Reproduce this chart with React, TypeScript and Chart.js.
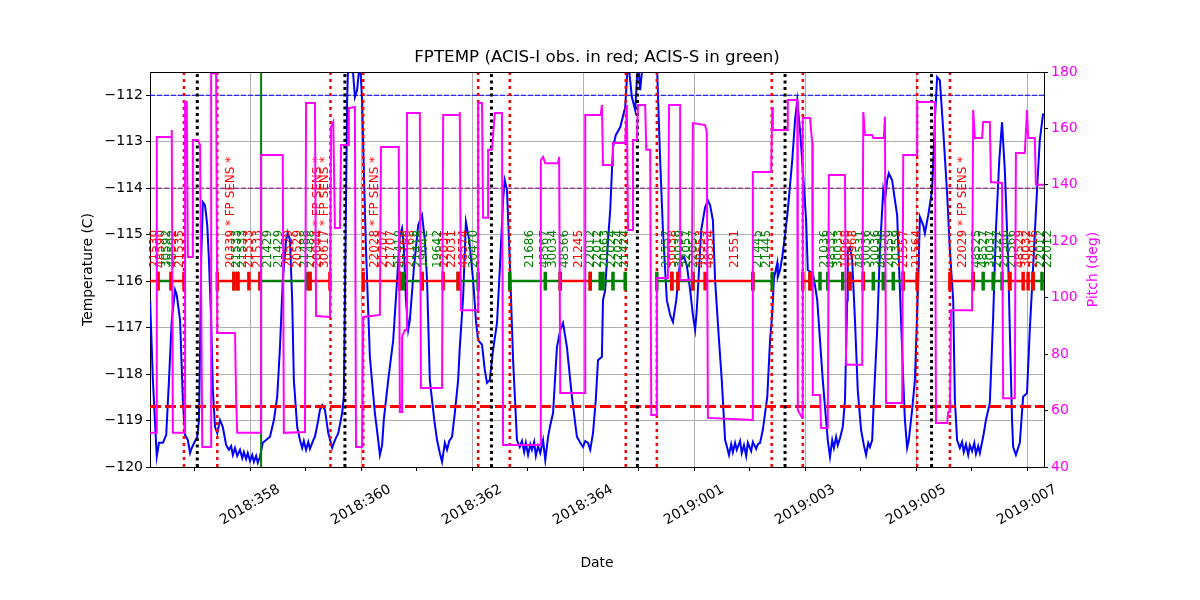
import React, { useEffect, useRef } from "react";
import { Chart, registerables } from "chart.js";
Chart.register(...registerables);

// ---------- axis ranges & ticks ----------
const X_MIN = 356.198;
const X_MAX = 372.306;
const T_MIN = -120;
const T_MAX = -111.5;
const P_MIN = 40;
const P_MAX = 180;
const xTickDays = [357, 358, 359, 360, 361, 362, 363, 364, 365, 366, 367, 368, 369, 370, 371, 372];
const xLabelDays = [358, 360, 362, 364, 366, 368, 370, 372];
const tempTicks = [-120, -119, -118, -117, -116, -115, -114, -113, -112];
const pitchTicks = [40, 60, 80, 100, 120, 140, 160, 180];

// ---------- FPTEMP (deg C) ----------
const tempTimes = [
  356.20, 356.25, 356.32, 356.36, 356.43, 356.49, 356.54, 356.59, 356.65, 356.68, 356.74, 356.79, 356.83, 356.88, 356.92, 356.95,
  357.01, 357.05, 357.08, 357.10, 357.12, 357.15, 357.19, 357.23, 357.26, 357.30, 357.33, 357.37, 357.41, 357.46, 357.51, 357.57,
  357.62, 357.66, 357.69, 357.73, 357.77, 357.82, 357.86, 357.89, 357.93, 357.96, 358.00, 358.04, 358.07, 358.11, 358.14, 358.18,
  358.23, 358.29, 358.36, 358.43, 358.49, 358.54, 358.59, 358.65, 358.68, 358.72, 358.76, 358.79, 358.85, 358.90, 358.94, 358.97,
  359.01, 359.05, 359.08, 359.14, 359.17, 359.23, 359.26, 359.30, 359.35, 359.41, 359.48, 359.53, 359.59, 359.66, 359.69, 359.71,
  359.75, 359.77, 359.84, 359.89, 359.93, 359.98, 360.02, 360.04, 360.09, 360.16, 360.22, 360.25, 360.31, 360.34, 360.38, 360.41,
  360.49, 360.58, 360.65, 360.70, 360.74, 360.77, 360.81, 360.85, 360.88, 360.95, 361.03, 361.10, 361.15, 361.19, 361.24, 361.32,
  361.37, 361.42, 361.46, 361.51, 361.55, 361.59, 361.64, 361.69, 361.75, 361.78, 361.84, 361.89, 361.95, 362.02, 362.07, 362.11,
  362.18, 362.23, 362.27, 362.32, 362.38, 362.45, 362.50, 362.56, 362.59, 362.63, 362.68, 362.74, 362.81, 362.86, 362.90, 362.94,
  362.97, 363.01, 363.05, 363.08, 363.12, 363.15, 363.19, 363.23, 363.28, 363.32, 363.37, 363.41, 363.46, 363.53, 363.59, 363.64,
  363.71, 363.80, 363.89, 363.95, 364.00, 364.04, 364.09, 364.13, 364.18, 364.23, 364.27, 364.34, 364.36, 364.40, 364.45, 364.49,
  364.54, 364.59, 364.67, 364.76, 364.81, 364.85, 364.88, 364.94, 364.99, 365.03, 365.08, 365.21, 365.33, 365.39, 365.44, 365.51,
  365.57, 365.62, 365.68, 365.75, 365.82, 365.87, 365.93, 365.98, 366.02, 366.05, 366.09, 366.13, 366.20, 366.25, 366.29, 366.34,
  366.38, 366.45, 366.50, 366.56, 366.59, 366.63, 366.67, 366.70, 366.74, 366.77, 366.83, 366.86, 366.90, 366.94, 366.97, 367.03,
  367.06, 367.12, 367.15, 367.19, 367.24, 367.32, 367.37, 367.41, 367.44, 367.50, 367.51, 367.55, 367.59, 367.64, 367.69, 367.77,
  367.82, 367.86, 367.91, 367.96, 368.02, 368.05, 368.11, 368.14, 368.18, 368.22, 368.27, 368.32, 368.38, 368.41, 368.45, 368.49,
  368.52, 368.56, 368.59, 368.63, 368.68, 368.72, 368.76, 368.77, 368.81, 368.85, 368.90, 368.95, 369.01, 369.06, 369.10, 369.14,
  369.17, 369.21, 369.24, 369.30, 369.35, 369.41, 369.44, 369.48, 369.51, 369.57, 369.62, 369.66, 369.71, 369.77, 369.80, 369.84,
  369.87, 369.93, 369.98, 370.04, 370.07, 370.13, 370.16, 370.22, 370.29, 370.34, 370.38, 370.43, 370.49, 370.56, 370.61, 370.67,
  370.70, 370.74, 370.79, 370.83, 370.86, 370.90, 370.94, 370.97, 371.01, 371.05, 371.08, 371.12, 371.15, 371.21, 371.26, 371.33,
  371.39, 371.44, 371.50, 371.55, 371.60, 371.66, 371.69, 371.73, 371.75, 371.80, 371.84, 371.87, 371.93, 372.00, 372.05, 372.11,
  372.18, 372.23, 372.29,
];
const tempValues = [
  -116.41, -118.13, -119.78, -119.48, -119.48, -119.31, -118.13, -116.84, -116.19, -116.30, -116.84, -118.56, -119.31, -119.42, -119.70, -119.59,
  -119.44, -119.35, -118.99, -117.48, -115.55, -114.30, -114.37, -114.80, -115.55, -116.84, -118.34, -119.14, -119.27, -118.99, -119.14, -119.53,
  -119.63, -119.55, -119.74, -119.59, -119.76, -119.63, -119.81, -119.68, -119.83, -119.70, -119.87, -119.74, -119.89, -119.76, -119.91, -119.78,
  -119.48, -119.42, -119.35, -118.99, -118.49, -117.42, -115.98, -115.12, -114.95, -115.12, -116.41, -118.13, -119.14, -119.42, -119.59, -119.44,
  -119.63, -119.46, -119.61, -119.42, -119.35, -118.99, -118.77, -118.67, -118.77, -119.27, -119.59, -119.42, -119.27, -118.84, -118.49, -116.41,
  -112.11, -111.25, -111.25, -112.04, -111.89, -111.25, -112.11, -113.12, -115.33, -117.63, -118.45, -118.84, -119.42, -119.74, -119.53, -118.99,
  -118.13, -117.27, -115.98, -115.01, -114.86, -115.23, -116.41, -117.05, -116.84, -115.76, -114.80, -114.58, -115.12, -115.98, -118.13, -118.99,
  -119.42, -119.70, -119.89, -119.48, -119.63, -119.44, -119.35, -118.84, -118.13, -117.42, -116.34, -114.73, -115.12, -115.98, -116.84, -117.27,
  -117.37, -117.91, -118.19, -118.13, -117.48, -116.90, -115.76, -114.26, -113.83, -114.04, -115.55, -117.70, -119.42, -119.57, -119.44, -119.68,
  -119.48, -119.74, -119.51, -119.63, -119.46, -119.76, -119.55, -119.70, -119.42, -119.85, -119.35, -119.10, -118.84, -117.42, -117.05, -116.90,
  -117.42, -118.49, -119.35, -119.48, -119.57, -119.44, -119.48, -119.63, -119.27, -118.56, -117.70, -117.63, -116.41, -116.19, -115.12, -114.47,
  -113.12, -112.86, -112.69, -112.26, -111.25, -111.68, -112.04, -112.32, -111.25, -111.89, -111.25, -110.82, -111.25, -113.40, -114.90, -116.41,
  -116.73, -116.88, -116.41, -115.55, -115.48, -115.66, -116.19, -116.73, -117.05, -116.62, -115.76, -114.90, -114.41, -114.26, -114.37, -114.69,
  -115.98, -117.27, -118.13, -119.42, -119.55, -119.74, -119.51, -119.68, -119.48, -119.63, -119.44, -119.70, -119.53, -119.76, -119.48, -119.66,
  -119.46, -119.61, -119.51, -119.48, -119.20, -118.49, -117.27, -116.69, -115.94, -115.61, -115.91, -115.76, -115.48, -115.01, -114.47, -113.40,
  -112.54, -112.11, -112.75, -113.61, -114.69, -115.76, -115.81, -115.83, -116.09, -116.41, -117.27, -118.13, -118.99, -119.42, -119.78, -119.42,
  -119.59, -119.35, -119.53, -119.38, -119.14, -118.56, -116.41, -115.33, -115.27, -115.55, -116.84, -118.34, -119.20, -119.53, -119.74, -119.48,
  -119.57, -119.42, -118.56, -117.05, -115.33, -114.04, -114.26, -113.83, -113.68, -113.83, -114.26, -114.58, -116.19, -118.13, -118.99, -119.59,
  -119.42, -118.77, -118.13, -115.98, -114.62, -114.80, -114.97, -114.58, -114.04, -112.54, -111.61, -111.68, -112.75, -114.11, -115.33, -116.41,
  -118.56, -119.42, -119.59, -119.46, -119.68, -119.51, -119.74, -119.53, -119.66, -119.48, -119.72, -119.55, -119.70, -119.35, -118.99, -118.62,
  -116.77, -114.90, -113.40, -112.58, -113.61, -115.55, -117.05, -118.99, -119.57, -119.74, -119.59, -119.48, -118.49, -118.41, -117.05, -115.70,
  -114.04, -112.97, -112.39,
];

// ---------- Pitch (deg) ----------
const pitchTimes = [
  356.20, 356.32, 356.32, 356.58, 356.59, 356.61, 356.83, 356.83, 356.86, 356.88, 356.97, 356.97, 357.06, 357.10, 357.14, 357.30,
  357.30, 357.39, 357.41, 357.73, 357.75, 357.77, 358.20, 358.20, 358.59, 358.61, 358.99, 359.01, 359.17, 359.19, 359.44, 359.46,
  359.50, 359.53, 359.62, 359.64, 359.77, 359.78, 359.89, 359.91, 360.02, 360.04, 360.34, 360.36, 360.68, 360.70, 360.74, 360.74,
  360.79, 360.83, 360.83, 361.06, 361.08, 361.46, 361.48, 361.78, 361.78, 361.80, 362.11, 362.11, 362.18, 362.20, 362.29, 362.29,
  362.36, 362.41, 362.54, 362.56, 363.23, 363.24, 363.28, 363.32, 363.55, 363.57, 363.59, 364.04, 364.04, 364.32, 364.34, 364.36,
  364.54, 364.54, 364.76, 364.79, 364.81, 364.90, 364.90, 364.97, 364.99, 365.12, 365.14, 365.21, 365.23, 365.33, 365.33, 365.53,
  365.55, 365.75, 365.75, 365.96, 365.98, 366.20, 366.23, 366.25, 367.06, 367.06, 367.39, 367.41, 367.42, 367.68, 367.69, 367.86,
  367.87, 367.95, 367.96, 368.09, 368.13, 368.14, 368.27, 368.29, 368.41, 368.43, 368.72, 368.74, 369.03, 369.05, 369.08, 369.21,
  369.23, 369.42, 369.44, 369.46, 369.75, 369.77, 370.02, 370.02, 370.34, 370.36, 370.56, 370.58, 370.61, 370.63, 371.01, 371.03,
  371.06, 371.19, 371.21, 371.33, 371.35, 371.55, 371.57, 371.78, 371.80, 371.96, 372.00, 372.02, 372.14, 372.16, 372.31,
];
const pitchValues = [
  52.1, 52.1, 157.0, 157.0, 159.4, 52.1, 52.1, 169.4, 169.4, 114.4, 114.4, 155.9, 155.9, 154.1, 47.1, 47.1,
  179.6, 179.6, 87.5, 87.5, 63.7, 52.1, 52.1, 150.6, 150.6, 52.1, 52.4, 169.0, 169.0, 93.5, 93.2, 160.5,
  162.3, 124.7, 124.7, 154.1, 154.1, 167.2, 167.6, 47.1, 47.1, 93.2, 93.9, 153.4, 153.4, 59.5, 59.5, 86.1,
  88.6, 88.6, 165.5, 165.5, 68.0, 68.0, 164.8, 164.8, 165.8, 95.6, 95.6, 169.0, 169.0, 128.3, 128.3, 152.4,
  152.4, 165.5, 165.5, 47.8, 47.8, 148.8, 149.9, 147.7, 147.7, 149.9, 66.2, 66.2, 164.8, 164.8, 168.3, 147.0,
  147.0, 154.8, 154.8, 168.3, 124.0, 124.0, 155.9, 155.9, 168.3, 168.3, 152.4, 152.4, 58.4, 58.4, 107.0, 107.0,
  168.3, 168.3, 106.3, 106.3, 161.9, 161.2, 158.7, 57.4, 56.7, 144.6, 144.6, 167.6, 159.4, 159.4, 170.1, 170.1,
  60.2, 57.4, 163.7, 163.7, 154.8, 65.5, 65.5, 53.8, 53.8, 143.5, 143.5, 76.2, 76.2, 165.8, 157.7, 157.7,
  156.6, 156.6, 164.1, 62.7, 62.7, 150.6, 150.6, 169.4, 169.4, 55.6, 55.6, 59.5, 59.5, 95.6, 95.6, 166.5,
  156.6, 156.6, 162.3, 162.3, 141.0, 140.7, 64.4, 64.4, 151.3, 151.3, 166.5, 156.6, 156.6, 140.0, 140.0,
];

// ---------- limits & event lines ----------
const planningLimit = -112.0;
const yellowLimit = -114.0;
const acisLimit = -118.7;
const radZoneDays = [356.81, 357.41, 359.45, 360.04, 362.11, 362.68, 364.77, 365.33, 367.40, 367.96, 370.02, 370.61];
const perigeeDays = [357.05, 359.71, 362.35, 364.98, 367.64, 370.28];
const nowDays = [358.20];

// ---------- observations band ----------
const BAND_T = -116.0;
const obsStarts = [
  356.10, 356.34, 356.58, 357.41, 357.71, 357.78, 357.98, 358.18, 359.03, 359.08, 360.04, 360.70, 360.76, 361.10, 361.48, 361.75,
  362.68, 363.32, 363.59, 364.13, 364.31, 364.36, 364.54, 365.33, 365.60, 365.71, 365.98, 366.20, 367.06, 367.96, 368.09, 368.27,
  368.41, 368.68, 368.81, 369.05, 369.23, 369.41, 369.59, 369.77, 370.61, 371.03, 371.21, 371.39, 371.55, 371.69, 371.93, 372.02,
  372.11, 372.27,
];
const obsStops = [
  356.34, 356.58, 356.81, 357.71, 357.78, 357.98, 358.18, 359.03, 359.08, 359.44, 360.70, 360.76, 361.10, 361.48, 361.75, 362.11,
  363.32, 363.59, 364.13, 364.31, 364.36, 364.54, 364.76, 365.60, 365.71, 365.98, 366.20, 367.06, 367.41, 368.09, 368.27, 368.41,
  368.68, 368.81, 369.05, 369.23, 369.41, 369.59, 369.77, 370.02, 371.03, 371.21, 371.39, 371.55, 371.69, 371.93, 372.02, 372.11,
  372.27, 372.45,
];
const obsInst = [
  "I", "S", "I", "I", "S", "I", "I", "S", "S", "I", "I", "S", "S", "I", "I", "S",
  "S", "S", "I", "S", "S", "S", "S", "S", "I", "S", "I", "I", "S", "I", "S", "S",
  "S", "S", "I", "S", "S", "S", "S", "I", "I", "S", "S", "S", "S", "I", "I", "I",
  "S", "S",
];

// ---------- obsid labels ----------
const labelTimes = [
  356.29, 356.40, 356.50, 356.61, 356.74, 357.66, 357.77, 357.87, 357.98, 358.14, 358.32, 358.52, 358.70, 358.86, 358.99, 359.10,
  359.23, 359.35, 360.25, 360.41, 360.54, 360.70, 360.79, 360.90, 361.03, 361.14, 361.39, 361.51, 361.64, 361.86, 362.04, 363.05,
  363.32, 363.46, 363.68, 363.93, 364.14, 364.27, 364.40, 364.52, 364.65, 364.76, 365.51, 365.62, 365.75, 365.87, 366.00, 366.13,
  366.29, 366.74, 367.15, 367.32, 368.36, 368.49, 368.61, 368.74, 368.86, 369.01, 369.12, 369.28, 369.41, 369.53, 369.66, 369.78,
  370.02, 370.85, 371.10, 371.23, 371.35, 371.48, 371.60, 371.73, 371.87, 372.00, 372.13, 372.25, 372.38,
];
const labelTexts = [
  "21530", "48590", "30592", "48592", "21535", "20339 * FP SENS *", "21533", "21533", "21533", "21533", "21429", "21429", "20529", "20529", "21488", "21488",
  "20044 * FP SENS *", "30617 * FP SENS *", "22028 * FP SENS *", "21707", "21707", "21418", "21168", "21168", "21418", "19642", "19642", "22031", "22031", "48574", "20470", "21686",
  "48567", "30034", "48566", "21245", "22012", "22012", "20663", "22024", "22024", "21424", "21557", "30038", "30039", "22057", "22057", "48553",
  "48554", "21551", "21445", "21445", "21036", "48532", "30033", "19968", "19968", "48531", "30036", "30036", "48530", "20359", "20359", "21557",
  "21564", "22029 * FP SENS *", "48525", "48527", "30037", "21527", "21566", "21566", "48529", "30032", "22016", "22012", "22012",
];
const labelInst = [
  "I", "I", "S", "S", "I", "I", "S", "S", "I", "I", "S", "S", "I", "I", "S", "S",
  "I", "I", "I", "I", "I", "S", "I", "I", "S", "S", "S", "I", "I", "I", "S", "S",
  "S", "S", "S", "I", "S", "S", "S", "S", "S", "S", "S", "I", "S", "S", "S", "I",
  "I", "I", "S", "S", "S", "S", "S", "I", "I", "S", "S", "S", "S", "S", "S", "I",
  "I", "I", "S", "S", "S", "S", "S", "S", "I", "I", "I", "S", "S",
];
const LABEL_T = -115.72;

const RED = "#ff0000";
const GREEN = "#008000";
const FONT = "'DejaVu Sans', sans-serif";

function dayLabel(d: number): string {
  if (d <= 365) return "2018:" + String(d).padStart(3, "0");
  return "2019:" + String(d - 365).padStart(3, "0");
}

function pairs(xs: number[], ys: number[]) {
  return xs.map((x, i) => ({ x, y: ys[i] }));
}

function vLines(days: number[]) {
  const out: any[] = [];
  days.forEach((d) => {
    out.push({ x: d, y: T_MIN }, { x: d, y: T_MAX }, { x: d, y: null });
  });
  return out;
}

function hLine(v: number) {
  return [{ x: X_MIN, y: v }, { x: X_MAX, y: v }];
}

function bandData(inst: string) {
  const out: any[] = [];
  obsStarts.forEach((s, i) => {
    if (obsInst[i] !== inst) return;
    out.push({ x: s, y: BAND_T }, { x: obsStops[i], y: BAND_T }, { x: obsStops[i], y: null });
  });
  return out;
}

function bandTicks(inst: string) {
  const out: any[] = [];
  obsStarts.forEach((s, i) => {
    if (obsInst[i] !== inst) return;
    [s, obsStops[i]].forEach((d) => {
      out.push({ x: d, y: BAND_T + 0.2 }, { x: d, y: BAND_T - 0.2 }, { x: d, y: null });
    });
  });
  return out;
}

const base = { pointRadius: 0, pointHoverRadius: 0, fill: false, tension: 0, spanGaps: false };

export default function App() {
  const ref = useRef<HTMLCanvasElement | null>(null);

  useEffect(() => {
    if (!ref.current) return;

    const textPlugin = {
      id: "fptempText",
      beforeDatasetDraw(chart: any, args: any) {
        if (args.index !== 0) return;
        const ctx = chart.ctx;
        const xs = chart.scales.x;
        const ys = chart.scales.y;
        ctx.save();
        ctx.font = `12px ${FONT}`;
        ctx.textAlign = "left";
        ctx.textBaseline = "middle";
        const y0 = ys.getPixelForValue(LABEL_T);
        labelTimes.forEach((d, i) => {
          const x = xs.getPixelForValue(d);
          ctx.save();
          ctx.translate(x, y0);
          ctx.rotate(-Math.PI / 2);
          ctx.fillStyle = labelInst[i] === "I" ? RED : GREEN;
          ctx.fillText(labelTexts[i], 0, 0);
          ctx.restore();
        });
        ctx.restore();
      },
      afterDraw(chart: any) {
        const ctx = chart.ctx;
        const a = chart.chartArea;
        const xs = chart.scales.x;
        ctx.save();
        // top spine
        ctx.strokeStyle = "#000";
        ctx.lineWidth = 1;
        ctx.beginPath();
        ctx.moveTo(a.left, a.top + 0.5);
        ctx.lineTo(a.right, a.top + 0.5);
        ctx.stroke();
        // title
        ctx.fillStyle = "#000";
        ctx.textAlign = "center";
        ctx.textBaseline = "middle";
        ctx.font = `16.7px ${FONT}`;
        ctx.fillText("FPTEMP (ACIS-I obs. in red; ACIS-S in green)", (a.left + a.right) / 2, 58);
        // axis titles
        ctx.font = `13.9px ${FONT}`;
        ctx.fillText("Date", (a.left + a.right) / 2, 563);
        const cy = (a.top + a.bottom) / 2;
        ctx.save();
        ctx.translate(88, cy);
        ctx.rotate(-Math.PI / 2);
        ctx.fillText("Temperature (C)", 0, 0);
        ctx.restore();
        ctx.save();
        ctx.translate(1093, cy);
        ctx.rotate(-Math.PI / 2);
        ctx.fillStyle = "#ff00ff";
        ctx.fillText("Pitch (deg)", 0, 0);
        ctx.restore();
        // rotated date tick labels
        xLabelDays.forEach((d) => {
          const x = xs.getPixelForValue(d);
          ctx.save();
          ctx.translate(x, a.bottom + 38);
          ctx.rotate(-Math.PI / 6);
          ctx.fillText(dayLabel(d), 0, 0);
          ctx.restore();
        });
        ctx.restore();
      },
    };

    const chart = new Chart(ref.current, {
      type: "line",
      data: {
        datasets: [
          {
            ...base,
            label: "Pitch",
            data: pairs(pitchTimes, pitchValues),
            borderColor: "#ff00ff",
            borderWidth: 2,
            yAxisID: "y2",
            order: 0,
          },
          {
            ...base,
            label: "FPTEMP",
            data: pairs(tempTimes, tempValues),
            borderColor: "#0000ff",
            borderWidth: 2,
            yAxisID: "y",
            order: 20,
          },
          { ...base, data: hLine(planningLimit), borderColor: "#0000ff", borderWidth: 1, borderDash: [5, 2], yAxisID: "y", order: 15 },
          { ...base, data: hLine(yellowLimit), borderColor: "#800080", borderWidth: 1, borderDash: [5, 2], yAxisID: "y", order: 15 },
          { ...base, data: hLine(acisLimit), borderColor: RED, borderWidth: 3, borderDash: [11, 4], yAxisID: "y", order: 15 },
          { ...base, data: vLines(radZoneDays), borderColor: RED, borderWidth: 2.5, borderDash: [3, 4], yAxisID: "y", order: 14 },
          { ...base, data: vLines(perigeeDays), borderColor: "#000", borderWidth: 3, borderDash: [3, 3.5], yAxisID: "y", order: 14 },
          { ...base, data: vLines(nowDays), borderColor: GREEN, borderWidth: 2, yAxisID: "y", order: 14 },
          { ...base, data: bandData("I"), borderColor: RED, borderWidth: 2.5, yAxisID: "y", order: 12 },
          { ...base, data: bandData("S"), borderColor: GREEN, borderWidth: 2.5, yAxisID: "y", order: 12 },
          { ...base, data: bandTicks("I"), borderColor: RED, borderWidth: 3.5, yAxisID: "y", order: 11 },
          { ...base, data: bandTicks("S"), borderColor: GREEN, borderWidth: 3.5, yAxisID: "y", order: 11 },
        ],
      },
      options: {
        animation: false,
        responsive: false,
        devicePixelRatio: 1,
        events: [],
        layout: { padding: { top: 72, left: 0, right: 0, bottom: 0 } },
        plugins: { legend: { display: false }, tooltip: { enabled: false }, title: { display: false } },
        scales: {
          x: {
            type: "linear",
            min: X_MIN,
            max: X_MAX,
            afterBuildTicks: (s: any) => {
              s.ticks = xTickDays.map((v) => ({ value: v }));
            },
            afterFit: (s: any) => {
              s.height = 133;
            },
            ticks: { display: false },
            grid: {
              color: (c: any) => (c.tick && c.tick.value % 2 === 0 ? "#b0b0b0" : "rgba(0,0,0,0)"),
              tickColor: "#000",
              tickLength: 4,
              lineWidth: 1,
            },
            border: { display: true, color: "#000", width: 1 },
          },
          y: {
            type: "linear",
            position: "left",
            min: T_MIN,
            max: T_MAX,
            afterBuildTicks: (s: any) => {
              s.ticks = tempTicks.map((v) => ({ value: v }));
            },
            afterFit: (s: any) => {
              s.width = 150;
            },
            ticks: {
              color: "#000",
              padding: 3,
              font: { family: FONT, size: 14 },
              callback: (v: any) => String(v).replace("-", "\u2212"),
            },
            grid: { color: "#b0b0b0", tickColor: "#000", tickLength: 4, lineWidth: 1 },
            border: { display: true, color: "#000", width: 1 },
          },
          y2: {
            type: "linear",
            position: "right",
            min: P_MIN,
            max: P_MAX,
            afterBuildTicks: (s: any) => {
              s.ticks = pitchTicks.map((v) => ({ value: v }));
            },
            afterFit: (s: any) => {
              s.width = 156;
            },
            ticks: { color: "#ff00ff", padding: 3, font: { family: FONT, size: 14 } },
            grid: { drawOnChartArea: false, tickColor: "#000", tickLength: 4 },
            border: { display: true, color: "#000", width: 1 },
          },
        },
      },
      plugins: [textPlugin],
    } as any);

    return () => chart.destroy();
  }, []);

  return (
    <div style={{ position: "absolute", left: 0, top: 0, width: 1200, height: 600, background: "#fff" }}>
      <canvas ref={ref} width={1200} height={600} style={{ display: "block" }} />
    </div>
  );
}
